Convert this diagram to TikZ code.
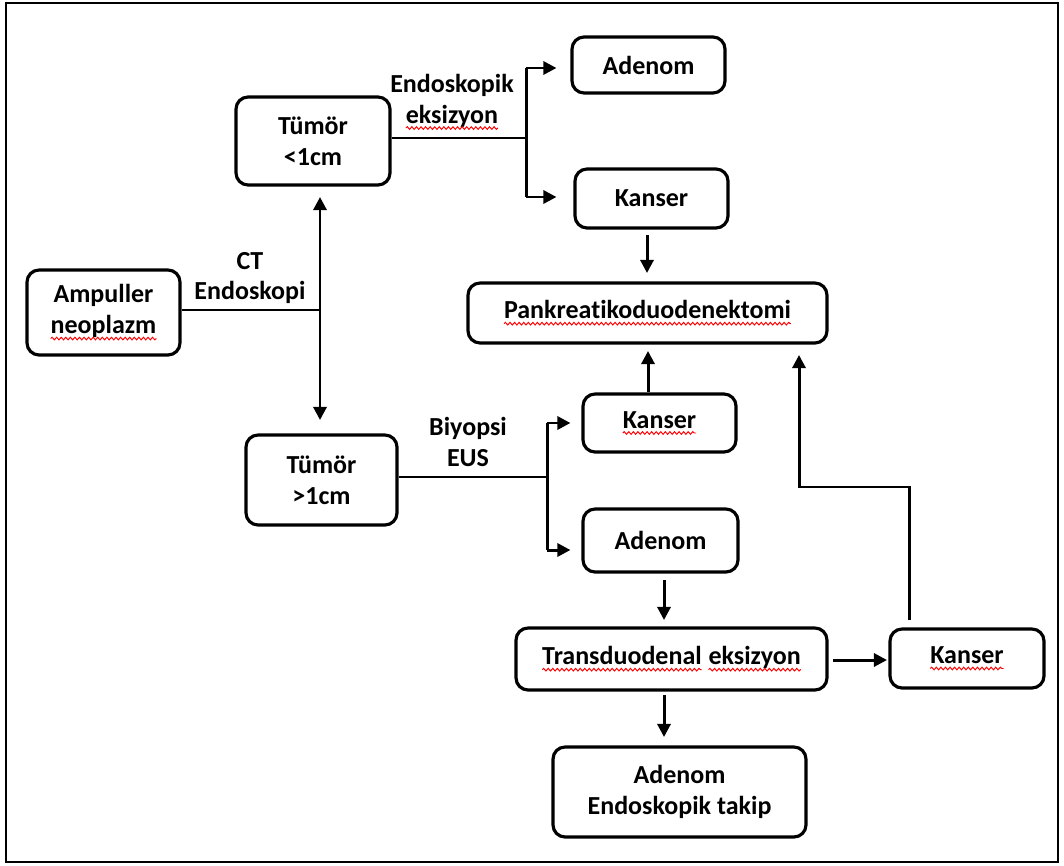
\documentclass[tikz,border=0pt]{standalone}
\usepackage{fontspec}
\setmainfont{Carlito}[Ligatures=NoCommon]
\usetikzlibrary{arrows.meta,decorations.pathmorphing}
\newcommand\sqw[1]{\tikz[baseline=(sqwn.base)]{\node[inner sep=0pt,outer sep=0pt,draw=none,rectangle,minimum size=0pt,sharp corners](sqwn){#1};\draw[red,line width=0.55pt,sharp corners,decorate,decoration={snake,amplitude=0.75pt,segment length=2.6pt}]([yshift=-2.8pt]sqwn.base west)--([yshift=-2.8pt]sqwn.base east);}}
\tikzset{
  box/.style={draw,rounded corners=0.24cm,line width=1.8pt,align=center,inner sep=0pt,
    font=\fontsize{14.8}{17.5}\selectfont\bfseries},
  lbl/.style={align=center,inner sep=0pt,font=\fontsize{14.8}{17.5}\selectfont\bfseries},
  con/.style={line width=1.7pt},
  arr/.style={line width=1.7pt,-{Triangle[length=7.5pt,width=7.5pt]}}
}
\begin{document}
\begin{tikzpicture}[x=0.02cm,y=-0.02cm]
\useasboundingbox (0,0) rectangle (1064,865);
\draw[line width=1.3pt] (6,3) rectangle (1058,862);
% boxes
\node[box,minimum width=3.06cm,minimum height=1.70cm] (amp) at (103.5,312.5) {Ampuller\\\sqw{neoplazm}};
\node[box,minimum width=3.08cm,minimum height=1.76cm] (t1) at (313,141) {Tümör\\<1cm};
\node[box,minimum width=3.02cm,minimum height=1.80cm] (t2) at (321.5,480) {Tümör\\>1cm};
\node[box,minimum width=3.06cm,minimum height=1.12cm] (aden1) at (648.5,65) {Adenom};
\node[box,minimum width=3.06cm,minimum height=1.18cm] (kan1) at (651.5,198.5) {Kanser};
\node[box,minimum width=7.18cm,minimum height=1.20cm] (pank) at (647.5,313) {\sqw{Pankreatikoduodenektomi}};
\node[box,minimum width=3.06cm,minimum height=1.16cm] (kan2) at (659.5,423) {\sqw{Kanser}};
\node[box,minimum width=3.10cm,minimum height=1.26cm] (aden2) at (660.5,540.5) {Adenom};
\node[box,minimum width=6.22cm,minimum height=1.24cm] (trans) at (671.5,659) {\sqw{Transduodenal} \sqw{eksizyon}};
\node[box,minimum width=3.08cm,minimum height=1.18cm] (kan3) at (967,658.5) {\sqw{Kanser}};
\node[box,minimum width=5.06cm,minimum height=1.80cm] (takip) at (679.5,792) {Adenom\\Endoskopik takip};
% labels
\node[lbl] (lct) at (250,278) {CT\\Endoskopi};
\node[lbl] (lend) at (452,102) {Endoskopik\\\sqw{eksizyon}};
\node[lbl] (lbio) at (468,442) {Biyopsi\\EUS};
% coordinates
\coordinate (j1) at (320,310);
\coordinate (a1) at (320,197);
\coordinate (a2) at (320,420);
\coordinate (j2) at (526,138);
\coordinate (j2u) at (526,68);
\coordinate (j2d) at (526,197);
\coordinate (j3) at (547,477);
\coordinate (j3u) at (547,423);
\coordinate (j3d) at (547,550);
\coordinate (k1s) at (647,235);
\coordinate (pb1) at (647,273);
\coordinate (k2t) at (648,392);
\coordinate (pb2) at (648,351);
\coordinate (a2s) at (664,580);
\coordinate (tt) at (664,620);
\coordinate (ts) at (664,695);
\coordinate (tk) at (664,737);
\coordinate (te) at (833,660);
\coordinate (k3w) at (887,660);
\coordinate (k3n) at (909,620);
\coordinate (c1) at (909,487);
\coordinate (c2) at (799,487);
\coordinate (pb3) at (799,355);
% connectors
\draw[con] (amp.east |- j1) -- (j1);
\draw[arr] (j1) -- (a1);
\draw[arr] (j1) -- (a2);
\draw[con] (t1.east |- j2) -- (j2);
\draw[con] (j2u) -- (j2d);
\draw[arr] (j2u) -- ([xshift=-0.28cm]aden1.west |- j2u);
\draw[arr] (j2d) -- ([xshift=-0.34cm]kan1.west |- j2d);
\draw[arr] (k1s) -- (pb1);
\draw[con] (t2.east |- j3) -- (j3);
\draw[con] (j3u) -- (j3d);
\draw[arr] (j3u) -- ([xshift=-0.22cm]kan2.west |- j3u);
\draw[arr] (j3d) -- ([xshift=-0.22cm]aden2.west |- j3d);
\draw[arr] (k2t) -- (pb2);
\draw[arr] (a2s) -- (tt);
\draw[arr] (ts) -- (tk);
\draw[arr] (te) -- (k3w);
\draw[arr] (k3n) -- (c1) -- (c2) -- (pb3);
\end{tikzpicture}
\end{document}
